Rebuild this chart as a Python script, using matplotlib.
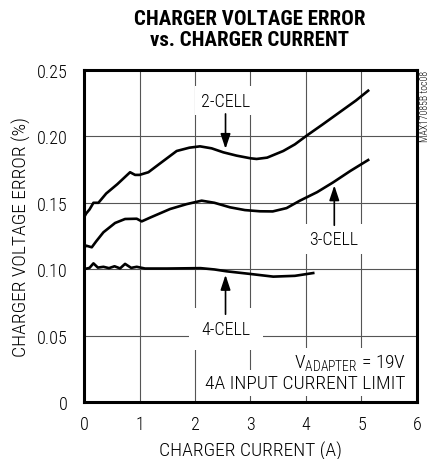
import matplotlib
matplotlib.use("Agg")
import matplotlib.pyplot as plt

# 2-cell curve
cell2_x = [0.0, 0.04, 0.10, 0.17, 0.26, 0.40, 0.60, 0.83, 0.92, 1.0, 1.16, 1.35, 1.67, 1.90, 2.09, 2.30, 2.51, 2.75, 3.0, 3.11, 3.30, 3.59, 3.80, 4.01, 4.30, 4.60, 4.90, 5.12]
cell2_y = [0.139, 0.142, 0.145, 0.150, 0.150, 0.157, 0.164, 0.173, 0.171, 0.171, 0.173, 0.179, 0.189, 0.1915, 0.1925, 0.191, 0.188, 0.1855, 0.1835, 0.183, 0.184, 0.189, 0.194, 0.2005, 0.209, 0.218, 0.227, 0.2344]

# 3-cell curve
cell3_x = [0.0, 0.04, 0.14, 0.22, 0.35, 0.56, 0.74, 0.95, 1.04, 1.20, 1.55, 1.85, 2.12, 2.35, 2.63, 2.90, 3.17, 3.40, 3.65, 3.89, 4.20, 4.49, 4.80, 5.12]
cell3_y = [0.116, 0.1177, 0.1165, 0.121, 0.1278, 0.1348, 0.1378, 0.138, 0.136, 0.139, 0.1453, 0.149, 0.1516, 0.150, 0.1466, 0.1445, 0.1436, 0.1435, 0.146, 0.1516, 0.158, 0.1654, 0.174, 0.1822]

# 4-cell curve
cell4_x = [0.0, 0.10, 0.17, 0.25, 0.35, 0.45, 0.55, 0.65, 0.74, 0.85, 0.95, 1.1, 1.5, 2.1, 2.35, 2.57, 3.0, 3.41, 3.80, 4.13]
cell4_y = [0.100, 0.101, 0.1044, 0.1012, 0.1018, 0.1008, 0.1022, 0.1006, 0.1040, 0.1010, 0.1018, 0.1005, 0.1005, 0.1008, 0.0998, 0.0984, 0.0964, 0.0944, 0.0950, 0.0971]

x_ticks = [0, 1, 2, 3, 4, 5, 6]
y_ticks = [0, 0.05, 0.10, 0.15, 0.20, 0.25]
y_tick_labels = ["0", "0.05", "0.10", "0.15", "0.20", "0.25"]

narrow = ["Roboto Condensed", "DejaVu Sans"]
plt.rcParams["font.family"] = narrow
plt.rcParams["font.weight"] = 300
plt.rcParams["axes.labelweight"] = 300
plt.rcParams["mathtext.fontset"] = "custom"
plt.rcParams["mathtext.rm"] = "Roboto Condensed:light"

fig = plt.figure(figsize=(4.31, 4.60), dpi=100)
ax = fig.add_axes([0.1949, 0.1239, 0.7726, 0.7218])

ax.plot(cell2_x, cell2_y, color="black", lw=1.9, zorder=3)
ax.plot(cell3_x, cell3_y, color="black", lw=1.9, zorder=3)
ax.plot(cell4_x, cell4_y, color="black", lw=1.9, zorder=3)

ax.set_xlim(0, 6)
ax.set_ylim(0, 0.25)
ax.set_xticks(x_ticks)
ax.set_yticks(y_ticks)
ax.set_yticklabels(y_tick_labels)
ax.tick_params(length=0, labelsize=13)
ax.tick_params(axis="y", pad=12)
ax.tick_params(axis="x", pad=9)
ax.grid(True, color="#555555", lw=0.8, zorder=1)
for s in ax.spines.values():
    s.set_linewidth(2.2)
    s.set_zorder(4)

box = dict(facecolor="white", edgecolor="none", pad=4)
arrow = dict(arrowstyle="-|>,head_width=0.3,head_length=0.9", color="black", lw=1.2)

# labels with arrows
ax.text(2.55, 0.227, "2-CELL", ha="center", va="center", fontsize=13,
        bbox=box, zorder=5)
ax.annotate("", xy=(2.55, 0.1885), xytext=(2.55, 0.219), arrowprops=arrow, zorder=5)

ax.text(4.5, 0.1227, "3-CELL", ha="center", va="center", fontsize=13,
        bbox=box, zorder=5)
ax.annotate("", xy=(4.51, 0.1652), xytext=(4.51, 0.131), arrowprops=arrow, zorder=5)

ax.text(2.56, 0.055, "4-CELL", ha="center", va="center", fontsize=13, zorder=5,
        bbox=dict(facecolor="white", edgecolor="none", pad=9))
ax.annotate("", xy=(2.55, 0.0978), xytext=(2.55, 0.064), arrowprops=arrow, zorder=5)

ax.text(5.80, 0.0305, r"V$_{\mathregular{ADAPTER}}$ = 19V", ha="right", va="center",
        fontsize=14, zorder=6, bbox=dict(facecolor="white", edgecolor="none", pad=2))
ax.text(5.80, 0.0140, "4A INPUT CURRENT LIMIT", ha="right", va="center",
        fontsize=14, zorder=5, bbox=dict(facecolor="white", edgecolor="none", pad=3))

ax.set_xlabel("CHARGER CURRENT (A)", fontsize=14, labelpad=6)
ax.set_ylabel("CHARGER VOLTAGE ERROR (%)", fontsize=14, labelpad=4)

fig.text(0.58, 0.935, "CHARGER VOLTAGE ERROR\nvs. CHARGER CURRENT",
         ha="center", va="center", fontsize=15, fontweight="bold",
         linespacing=1.1)
fig.text(0.985, 0.845, "MAX17085B toc08", rotation=90, ha="center", va="top",
         fontsize=7)

fig.savefig("out.png", dpi=100)
